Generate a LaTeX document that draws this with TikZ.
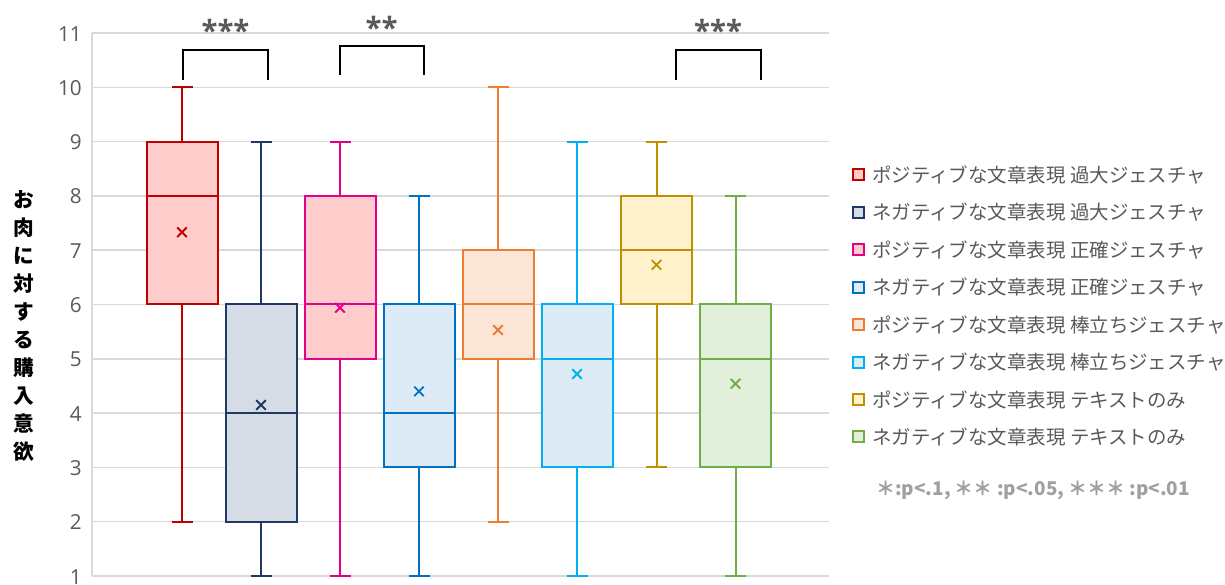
\documentclass[tikz,border=0pt]{standalone}
\usepackage{fontspec}
\setmainfont{Open Sans}
\newfontfamily\jpfont{Noto Sans CJK JP}
\definecolor{txtgray}{HTML}{595959}
\definecolor{notegray}{HTML}{A0A0A0}
\definecolor{gridgray}{HTML}{D9D9D9}
\definecolor{cRed}{HTML}{C00000}   \definecolor{fRed}{HTML}{FFCCCC}
\definecolor{cNavy}{HTML}{203864}  \definecolor{fNavy}{HTML}{D6DCE5}
\definecolor{cMag}{HTML}{E3008C}   \definecolor{fMag}{HTML}{FFCCCC}
\definecolor{cBlue}{HTML}{0070C0}  \definecolor{fBlue}{HTML}{DDEBF7}
\definecolor{cOra}{HTML}{ED7D31}   \definecolor{fOra}{HTML}{FBE5D6}
\definecolor{cSky}{HTML}{00B0F0}   \definecolor{fSky}{HTML}{DDEBF7}
\definecolor{cGold}{HTML}{BF9000}  \definecolor{fGold}{HTML}{FFF2CC}
\definecolor{cGrn}{HTML}{70AD47}   \definecolor{fGrn}{HTML}{E2EFDA}
\tikzset{
  gridln/.style={draw=gridgray,line width=1.1pt},
  ticklbl/.style={anchor=east,inner sep=0pt,yshift=-0.5pt,text=txtgray,font=\fontsize{15.5}{18}\selectfont},
  whisk/.style={line width=1.5pt},
  boxln/.style={line width=1.5pt},
  meanx/.style={line width=1.4pt},
  brk/.style={draw=black,line width=1.5pt},
  stars/.style={anchor=base,inner sep=0pt,text=txtgray,font=\fontsize{22}{24}\selectfont\bfseries},
  lgbox/.style={minimum size=8.25pt,inner sep=0pt,line width=1.5pt},
  lgtext/.style={anchor=west,inner sep=0pt,text=txtgray,font=\jpfont\fontsize{14.6}{17}\selectfont},
  ytitle/.style={align=center,inner sep=0pt,font=\jpfont\bfseries\fontsize{15.5}{21}\selectfont},
  note/.style={anchor=west,inner sep=0pt,text=notegray,font=\jpfont\bfseries\fontsize{14.2}{16}\selectfont}
}
% one box: x, line colour, fill, min, q1, median, q3, max, mean
\newcommand{\bxp}[9]{%
  \draw[whisk,#2] (#1,#4) -- (#1,#5) (#1,#7) -- (#1,#8);
  \draw[whisk,#2] (#1-10.5,#4) -- (#1+10.5,#4) (#1-10.5,#8) -- (#1+10.5,#8);
  \filldraw[boxln,draw=#2,fill=#3] (#1-35.5,#5) rectangle (#1+35.5,#7);
  \draw[boxln,#2] (#1-35.5,#6) -- (#1+35.5,#6);
  \draw[meanx,#2] (#1,#9) ++(-3.6pt,-3.6pt) -- ++(7.2pt,7.2pt) ++(-7.2pt,0pt) -- ++(7.2pt,-7.2pt);
}

\begin{document}
\begin{tikzpicture}[x=0.75pt,y=0.75pt]
  \useasboundingbox (0,0) rectangle (1225,585);

  \begin{scope}[shift={(0,-45.3)},y=40.725pt]
    \foreach \v in {1,...,11} {
      \draw[gridln] (92,\v) -- (829,\v);
      \node[ticklbl] (t\v) at (82,\v) {\v};
    }
    \draw[gridln] (92,1) -- (92,11);

    \bxp{182}{cRed}{fRed}{2}{6}{8}{9}{10}{7.33}
    \bxp{261}{cNavy}{fNavy}{1}{2}{4}{6}{9}{4.15}
    \bxp{340}{cMag}{fMag}{1}{5}{6}{8}{9}{5.94}
    \bxp{419}{cBlue}{fBlue}{1}{3}{4}{6}{8}{4.40}
    \bxp{498}{cOra}{fOra}{2}{5}{6}{7}{10}{5.53}
    \bxp{577}{cSky}{fSky}{1}{3}{5}{6}{9}{4.72}
    \bxp{656.5}{cGold}{fGold}{3}{6}{7}{8}{9}{6.73}
    \bxp{735.5}{cGrn}{fGrn}{1}{3}{5}{6}{8}{4.54}
  \end{scope}

  % significance brackets
  \coordinate (b1l) at (182.5,505); \coordinate (b1r) at (268,505);
  \coordinate (b2l) at (339.5,510); \coordinate (b2r) at (424,510);
  \coordinate (b3l) at (675.5,505); \coordinate (b3r) at (760.5,505);
  \draw[brk] (b1l) -- ++(0,30) -| (b1r);
  \draw[brk] (b2l) -- ++(0,29) -| (b2r);
  \draw[brk] (b3l) -- ++(0,30) -| (b3r);
  \node[stars] (s1) at (225.5,543) {***};
  \node[stars] (s2) at (381.5,546.5) {**};
  \node[stars] (s3) at (718,543) {***};

  % y axis title
  \node[ytitle] (yt) at (24,259) {お\\肉\\に\\対\\す\\る\\購\\入\\意\\欲};

  % legend
  \node[lgbox,draw=cRed,fill=fRed]   (m1) at (858.5,410) {};
  \node[lgbox,draw=cNavy,fill=fNavy] (m2) at (858.5,372.6) {};
  \node[lgbox,draw=cMag,fill=fMag]   (m3) at (858.5,335.1) {};
  \node[lgbox,draw=cBlue,fill=fBlue] (m4) at (858.5,297.7) {};
  \node[lgbox,draw=cOra,fill=fOra]   (m5) at (858.5,260.3) {};
  \node[lgbox,draw=cSky,fill=fSky]   (m6) at (858.5,222.9) {};
  \node[lgbox,draw=cGold,fill=fGold] (m7) at (858.5,185.4) {};
  \node[lgbox,draw=cGrn,fill=fGrn]   (m8) at (858.5,148) {};
  \node[lgtext] (l1) at (872,410) {ポジティブな文章表現 過大ジェスチャ};
  \node[lgtext] (l2) at (872,372.6) {ネガティブな文章表現 過大ジェスチャ};
  \node[lgtext] (l3) at (872,335.1) {ポジティブな文章表現 正確ジェスチャ};
  \node[lgtext] (l4) at (872,297.7) {ネガティブな文章表現 正確ジェスチャ};
  \node[lgtext] (l5) at (872,260.3) {ポジティブな文章表現 棒立ちジェスチャ};
  \node[lgtext] (l6) at (872,222.9) {ネガティブな文章表現 棒立ちジェスチャ};
  \node[lgtext] (l7) at (872,185.4) {ポジティブな文章表現 テキストのみ};
  \node[lgtext] (l8) at (872,148) {ネガティブな文章表現 テキストのみ};

  \node[note] (nt) at (876,95) {＊:p<.1, ＊＊ :p<.05, ＊＊＊ :p<.01};
\end{tikzpicture}
\end{document}
